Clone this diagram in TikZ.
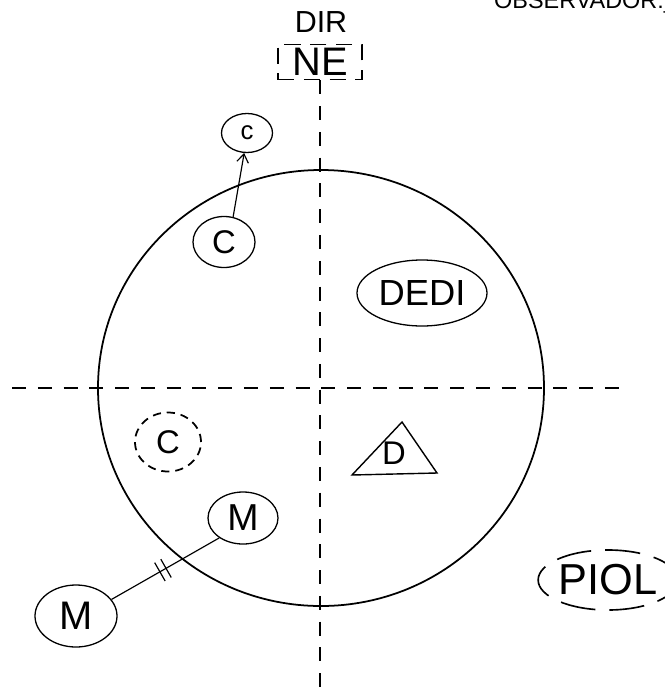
\documentclass[tikz,border=0pt]{standalone}
\usepackage{fontspec}
\setmainfont{Liberation Sans}
\usetikzlibrary{arrows.meta, shapes.geometric, decorations.markings}

\begin{document}
\begin{tikzpicture}[x=0.03cm, y=-0.03cm,
  bubble/.style={draw, ellipse, line width=1.1pt, inner sep=0pt},
  axis/.style={line width=1.6pt, dash pattern=on 12pt off 10pt},
  hand/.style={font=\fontsize{#1}{#1}\selectfont},
  cut/.style={postaction={decorate}, decoration={markings,
    mark=at position 0.45 with {\draw[line width=1pt] (0,-9pt) -- (0,9pt);
      \draw[line width=1pt] (6pt,-9pt) -- (6pt,9pt);}}}
]
\useasboundingbox (0,0) rectangle (665,692);

\node[hand=20, anchor=base west] (obs) at (490,8) {OBSERVADOR:\_\_};
\node[hand=26, anchor=base] (dir) at (321,32) {DIR};
\node[hand=34, draw, line width=1.4pt, dash pattern=on 14pt off 8pt,
  minimum width=2.52cm, minimum height=1.05cm, inner sep=0pt] (ne) at (320,62) {NE};

% globe and axes
\node[draw, ellipse, line width=1.5pt, minimum width=13.38cm, minimum height=13.08cm] (globe) at (321,388) {};
\coordinate (w) at (12,388);
\coordinate (e) at (630,388);
\coordinate (s) at (320,692);
\draw[axis] (ne.south) -- (s);
\draw[axis] (w) -- (e);

\node[bubble, hand=22, minimum width=1.53cm, minimum height=1.17cm] (cA) at (247,133) {c};
\node[bubble, hand=28, minimum width=1.86cm, minimum height=1.53cm] (cB) at (224,242) {C};
\draw[line width=1pt, -{Straight Barb[length=2.5mm, width=3.5mm]}] (cB.70) -- (cA.262);

\node[bubble, hand=31, minimum width=3.9cm, minimum height=1.98cm] (dedi) at (422,293) {DEDI};
\node[bubble, line width=1.5pt, dash pattern=on 7pt off 5pt, hand=28,
  minimum width=1.98cm, minimum height=1.77cm] (cC) at (168,442) {C};

\draw[line width=1.2pt] (352,475) -- (402,422) -- (437,473) -- cycle;
\node[hand=28] (d) at (394,453) {D};

\node[bubble, hand=32, minimum width=2.1cm, minimum height=1.56cm] (mA) at (243,518) {M};
\node[bubble, hand=34, minimum width=2.46cm, minimum height=1.86cm] (mB) at (76,616) {M};
\draw[line width=1pt, cut] (mB.25) -- (mA.220);

\node[bubble, hand=37, line width=1.4pt, dash pattern=on 30pt off 12pt,
  minimum width=3.9cm, minimum height=1.8cm] (piol) at (608,580) {PIOL};
\end{tikzpicture}
\end{document}
